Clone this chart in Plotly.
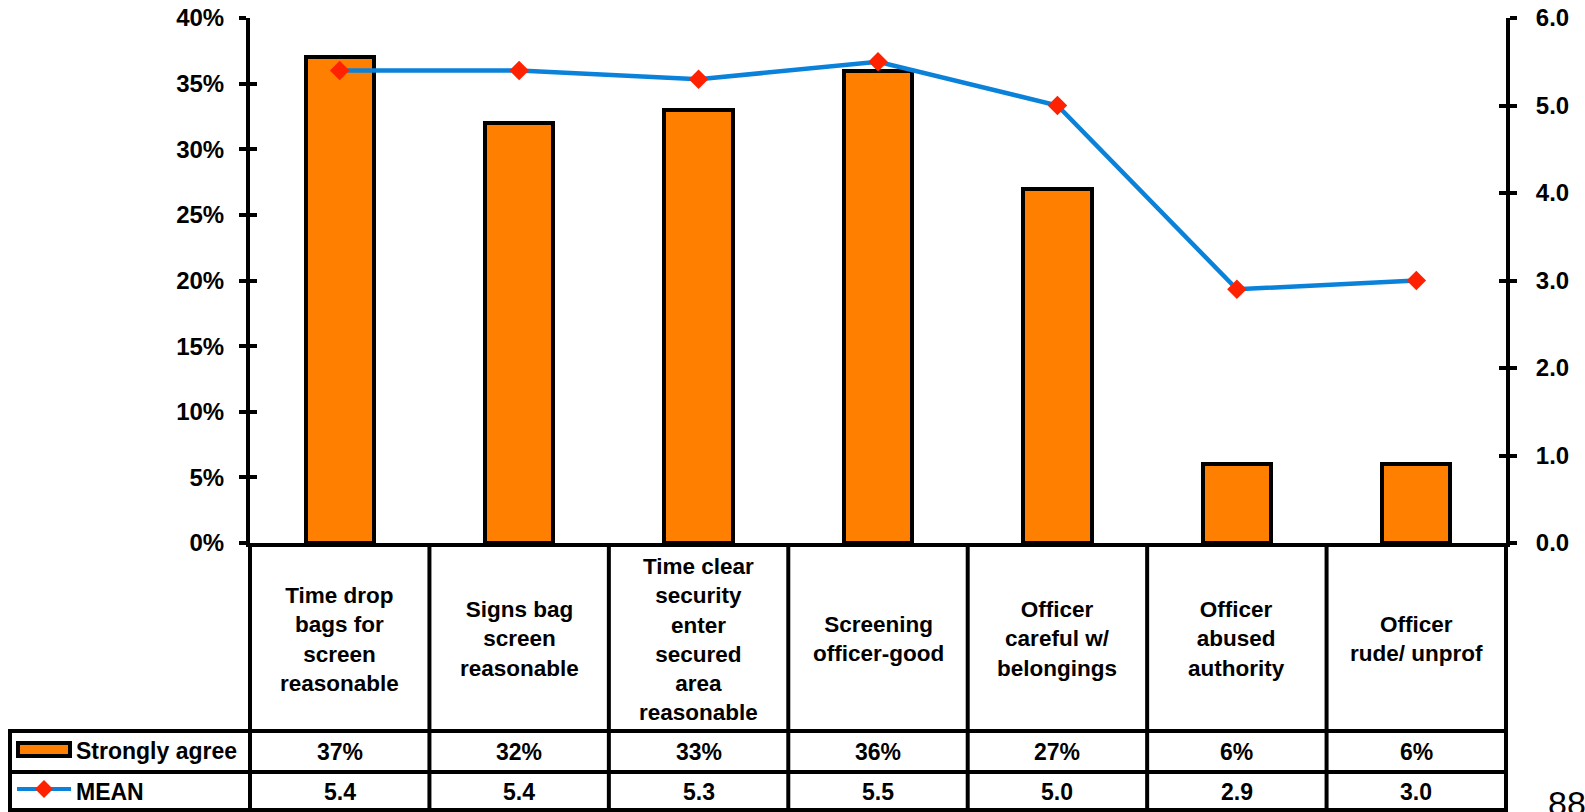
import plotly.graph_objects as go

categories = [
    "Time drop<br>bags for<br>screen<br>reasonable",
    "Signs bag<br>screen<br>reasonable",
    "Time clear<br>security<br>enter<br>secured<br>area<br>reasonable",
    "Screening<br>officer-good",
    "Officer<br>careful w/<br>belongings",
    "Officer<br>abused<br>authority",
    "Officer<br>rude/ unprof",
]
strongly_agree = [0.37, 0.32, 0.33, 0.36, 0.27, 0.06, 0.06]
mean_values = [5.4, 5.4, 5.3, 5.5, 5.0, 2.9, 3.0]
series_names = ["Strongly agree", "MEAN"]
page_number = "88"

W, H = 1585, 812
ML, MR, MT, MB = 250, 79, 18, 0
PW, PH = W - ML - MR, H - MT - MB
Y0 = 543  # pixel of 0% baseline
ydom0 = (H - Y0) / PH

ORANGE = "#FF7F00"
BLUE = "#0A82DA"
RED = "#FF2200"
FONT = "Liberation Sans, Arial, sans-serif"


def px_x(x):
    return (x - ML) / PW


def px_y(y):
    return (H - y) / PH


xmin, xmax = -0.5, len(categories) - 0.5

fig = go.Figure()
fig.add_trace(go.Bar(
    x=list(range(len(categories))), y=strongly_agree, name=series_names[0],
    width=0.38, marker=dict(color=ORANGE, line=dict(color="black", width=4)),
    showlegend=False,
))
fig.add_trace(go.Scatter(
    x=list(range(len(categories))), y=mean_values, name=series_names[1], yaxis="y2",
    mode="lines+markers", line=dict(color=BLUE, width=4.5),
    marker=dict(symbol="diamond", size=15, color=RED), showlegend=False,
))
# invisible traces to host inner tick axes
fig.add_trace(go.Scatter(x=[0], y=[None], yaxis="y3", showlegend=False, hoverinfo="skip"))
fig.add_trace(go.Scatter(x=[0], y=[None], yaxis="y4", showlegend=False, hoverinfo="skip"))

tickfont = dict(family=FONT, size=24, color="black", weight="bold")

fig.update_layout(
    width=W, height=H,
    margin=dict(l=ML, r=MR, t=MT, b=MB, autoexpand=False),
    paper_bgcolor="white", plot_bgcolor="white",
    bargap=0,
    xaxis=dict(range=[xmin, xmax], domain=[0, 1], showgrid=False, zeroline=False,
               showticklabels=False, ticks="", showline=True, linewidth=4,
               linecolor="black", anchor="y", fixedrange=True),
    yaxis=dict(range=[0, 0.4], dtick=0.05, tickformat=".0%", domain=[ydom0, 1],
               showgrid=False, zeroline=False, showline=True, linewidth=4, linecolor="black",
               ticks="outside", ticklen=7, tickwidth=4, tickcolor="black",
               tickfont=tickfont, ticklabelstandoff=10),
    yaxis2=dict(range=[0, 6], dtick=1, tickformat=".1f", overlaying="y", side="right",
                showgrid=False, zeroline=False, showline=True, linewidth=4, linecolor="black",
                ticks="outside", ticklen=7, tickwidth=4, tickcolor="black",
                tickfont=tickfont, ticklabelstandoff=14),
    yaxis3=dict(range=[0, 0.4], dtick=0.05, overlaying="y", side="left",
                showgrid=False, zeroline=False, showline=False, showticklabels=False,
                ticks="inside", ticklen=7, tickwidth=4, tickcolor="black"),
    yaxis4=dict(range=[0, 6], dtick=1, overlaying="y", side="right",
                showgrid=False, zeroline=False, showline=False, showticklabels=False,
                ticks="inside", ticklen=7, tickwidth=4, tickcolor="black"),
)

shapes = []
line = dict(color="black", width=4)
n = len(categories)
# vertical table column borders
for b in range(n + 1):
    xp = (b - 0.5 - xmin) / (xmax - xmin)
    shapes.append(dict(type="line", xref="paper", yref="paper", x0=xp, x1=xp,
                       y0=0, y1=ydom0, line=line))
legend_left = px_x(10)
for yy in [731, 772, 810]:
    shapes.append(dict(type="line", xref="paper", yref="paper", x0=legend_left - 2 / PW, x1=1 + 2 / PW,
                       y0=px_y(yy), y1=px_y(yy), line=line))
shapes.append(dict(type="line", xref="paper", yref="paper", x0=legend_left, x1=legend_left,
                   y0=px_y(812), y1=px_y(729), line=line))
# legend symbols
shapes.append(dict(type="rect", xref="paper", yref="paper", x0=px_x(18), x1=px_x(70),
                   y0=px_y(756), y1=px_y(743), fillcolor=ORANGE, line=dict(color="black", width=4)))
shapes.append(dict(type="line", xref="paper", yref="paper", x0=px_x(17), x1=px_x(71),
                   y0=px_y(789), y1=px_y(789), line=dict(color=BLUE, width=4)))
cx, cy, r = 44, 789, 9
shapes.append(dict(type="path", xref="paper", yref="paper",
                   path=f"M {px_x(cx - r)},{px_y(cy)} L {px_x(cx)},{px_y(cy - r)} "
                        f"L {px_x(cx + r)},{px_y(cy)} L {px_x(cx)},{px_y(cy + r)} Z",
                   fillcolor=RED, line=dict(width=0)))
fig.update_layout(shapes=shapes)

ann = []
hdr_center = px_y(639)
CELL_SIZE = 23
for i, c in enumerate(categories):
    ann.append(dict(x=i, xref="x", y=hdr_center, yref="paper", text=f"<b>{c}</b>",
                    showarrow=False, xanchor="center", yanchor="middle",
                    font=dict(family=FONT, size=22.5, color="black")))
    ann.append(dict(x=i, xref="x", y=px_y(752), yref="paper",
                    text=f"<b>{round(strongly_agree[i] * 100)}%</b>",
                    showarrow=False, xanchor="center", yanchor="middle",
                    font=dict(family=FONT, size=CELL_SIZE, color="black")))
    ann.append(dict(x=i, xref="x", y=px_y(792), yref="paper",
                    text=f"<b>{mean_values[i]:.1f}</b>",
                    showarrow=False, xanchor="center", yanchor="middle",
                    font=dict(family=FONT, size=CELL_SIZE, color="black")))
ann.append(dict(x=px_x(74), xref="paper", y=px_y(751), yref="paper", text=f"<b>{series_names[0]}</b>",
                showarrow=False, xanchor="left", yanchor="middle",
                font=dict(family=FONT, size=CELL_SIZE, color="black")))
ann.append(dict(x=px_x(74), xref="paper", y=px_y(792), yref="paper", text=f"<b>{series_names[1]}</b>",
                showarrow=False, xanchor="left", yanchor="middle",
                font=dict(family=FONT, size=CELL_SIZE, color="black")))
ann.append(dict(x=px_x(1546), xref="paper", y=px_y(782), yref="paper", text=page_number,
                showarrow=False, xanchor="left", yanchor="top",
                font=dict(family=FONT, size=34, color="black")))
fig.update_layout(annotations=ann)

fig.write_html("out.html", config={"displayModeBar": False},
               post_script="document.body.style.margin='0';document.body.style.overflow='hidden';")
